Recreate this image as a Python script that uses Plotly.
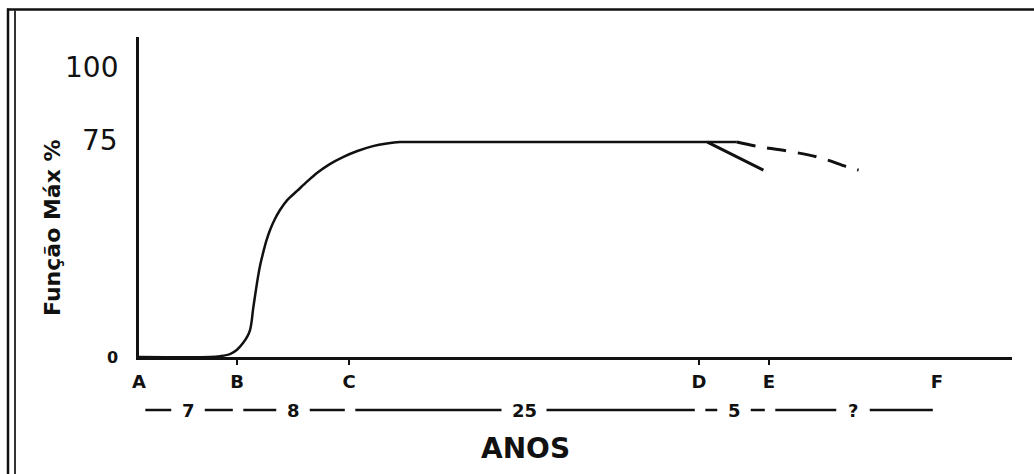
import plotly.graph_objects as go

# ---------------- data ----------------
stage_labels = ["A", "B", "C", "D", "E", "F"]
stage_ages = [0, 7, 15, 40, 45, 57]
period_labels = ["7", "8", "25", "5", "?"]

y_tick_vals = [0, 75, 100]
y_tick_text = ["0", "75", "100"]

# main growth curve (years, % of max function)
curve_x = [0, 5.07, 5.8, 6.5, 7.0, 7.43, 7.75, 7.93, 8.05, 8.14, 8.3, 8.5, 8.68, 8.86, 9.1,
           9.36, 9.7, 10.07, 10.6, 11.29, 12.0, 12.71, 13.6, 14.57, 15.6, 16.71, 17.7,
           18.64, 21, 30, 40, 42.7]
curve_y = [0, 0, 0.3, 1.0, 2.5, 4.8, 7.2, 9.3, 12.5, 16.2, 21.5, 27.7, 32.3, 35.9, 40.2,
           43.9, 47.6, 50.8, 54.3, 57.4, 60.6, 63.6, 66.6, 69.1, 71.2, 72.9, 73.8,
           74.3, 74.3, 74.3, 74.3, 74.3]

# steep decline branch after D
decline_x = [40.6, 44.6]
decline_y = [74.3, 64.6]

# hypothetical (dashed) decline
dashed_x = [42.7, 44.07, 46.3, 48.5, 50.6, 51.4]
dashed_y = [74.3, 72.9, 71.2, 69.1, 65.7, 64.6]

# ---------------- layout constants ----------------
W, H = 1034, 474
L, R, T, B = 139, 22, 37, 117
PW, PH = W - L - R, H - T - B
PX_PER_YEAR = 14.0
PX_PER_UNIT = 2.893
x_max = PW / PX_PER_YEAR
y_max = PH / PX_PER_UNIT

FONT = "DejaVu Sans"
INK = "#111111"


def px_x(px):
    return (px - L) / PW


def px_y(py):
    return (H - B - py) / PH


fig = go.Figure()
fig.add_trace(go.Scatter(x=curve_x, y=curve_y, mode="lines",
                         line=dict(color=INK, width=2.5, shape="spline", smoothing=0.9),
                         hoverinfo="skip", showlegend=False))
fig.add_trace(go.Scatter(x=decline_x, y=decline_y, mode="lines",
                         line=dict(color=INK, width=3), hoverinfo="skip", showlegend=False))
fig.add_trace(go.Scatter(x=dashed_x, y=dashed_y, mode="lines",
                         line=dict(color=INK, width=3, dash="19px,12px", shape="spline"),
                         hoverinfo="skip", showlegend=False))

shapes = []
annotations = []

# period row under the axis
row_y = px_y(410)
for i, lab in enumerate(period_labels):
    a, b = stage_ages[i], stage_ages[i + 1]
    mid = (a + b) / 2
    half_gap = (len(lab) * 11.5 / 2 + 11) / PX_PER_YEAR
    start = a + 0.45
    end = b - 0.3
    for x0, x1 in [(start, mid - half_gap), (mid + half_gap, end)]:
        shapes.append(dict(type="line", xref="x", yref="paper", x0=x0, x1=x1, y0=row_y, y1=row_y,
                           line=dict(color=INK, width=2.5)))
    annotations.append(dict(x=mid, y=row_y, xref="x", yref="paper", text="<b>%s</b>" % lab,
                            showarrow=False, font=dict(family=FONT, size=18, color=INK),
                            xanchor="center", yanchor="middle"))

# y tick labels
for v, t in zip(y_tick_vals, y_tick_text):
    if v == 0:
        f = dict(family=FONT, size=16, color=INK)
        txt = "<b>%s</b>" % t
    else:
        f = dict(family=FONT, size=28, color=INK)
        txt = t
    annotations.append(dict(x=0, y=v, xref="paper", yref="y", text=txt, showarrow=False,
                            xanchor="right", yanchor="middle", xshift=-19, font=f))

# y axis title
annotations.append(dict(x=0, y=px_y(228), xref="paper", yref="paper", xshift=52 - L,
                        text="<b>Função Máx %</b>", textangle=-90, showarrow=False,
                        font=dict(family=FONT, size=22, color=INK),
                        xanchor="center", yanchor="middle"))

# x axis title
annotations.append(dict(x=(525 - L) / PX_PER_YEAR, y=px_y(448), xref="x", yref="paper",
                        text="<b>ANOS</b>", showarrow=False,
                        font=dict(family=FONT, size=28, color=INK),
                        xanchor="center", yanchor="middle"))

# outer frame (top line + double left line)
shapes.append(dict(type="line", xref="paper", yref="paper", x0=px_x(7), x1=px_x(W + 5),
                   y0=px_y(9.5), y1=px_y(9.5), line=dict(color=INK, width=2.5)))
shapes.append(dict(type="line", xref="paper", yref="paper", x0=px_x(8), x1=px_x(8),
                   y0=px_y(8.5), y1=px_y(H + 5), line=dict(color=INK, width=2.5)))
shapes.append(dict(type="line", xref="paper", yref="paper", x0=px_x(15), x1=px_x(15),
                   y0=px_y(10), y1=px_y(H + 5), line=dict(color="#333333", width=2)))

fig.update_layout(
    width=W, height=H,
    margin=dict(l=L, r=R, t=T, b=B, pad=0),
    paper_bgcolor="white", plot_bgcolor="white",
    shapes=shapes, annotations=annotations,
    xaxis=dict(range=[0, x_max], showgrid=False, zeroline=False,
               showline=True, linecolor=INK, linewidth=2.5,
               tickmode="array", tickvals=stage_ages,
               ticktext=["<b>%s</b>" % s for s in stage_labels],
               ticks="", ticklabelstandoff=7,
               tickfont=dict(family=FONT, size=18, color=INK),
               minor=dict(tickmode="array", tickvals=stage_ages[1:5], ticks="outside",
                          ticklen=5, tickwidth=2, tickcolor=INK)),
    yaxis=dict(range=[0, y_max], showgrid=False, zeroline=False,
               showline=True, linecolor=INK, linewidth=2.5,
               showticklabels=False, ticks=""),
    font=dict(family=FONT, color=INK),
)

fig.write_html("out.html", config={"displayModeBar": False},
               post_script="document.body.style.margin='0';document.body.style.overflow='hidden';")
